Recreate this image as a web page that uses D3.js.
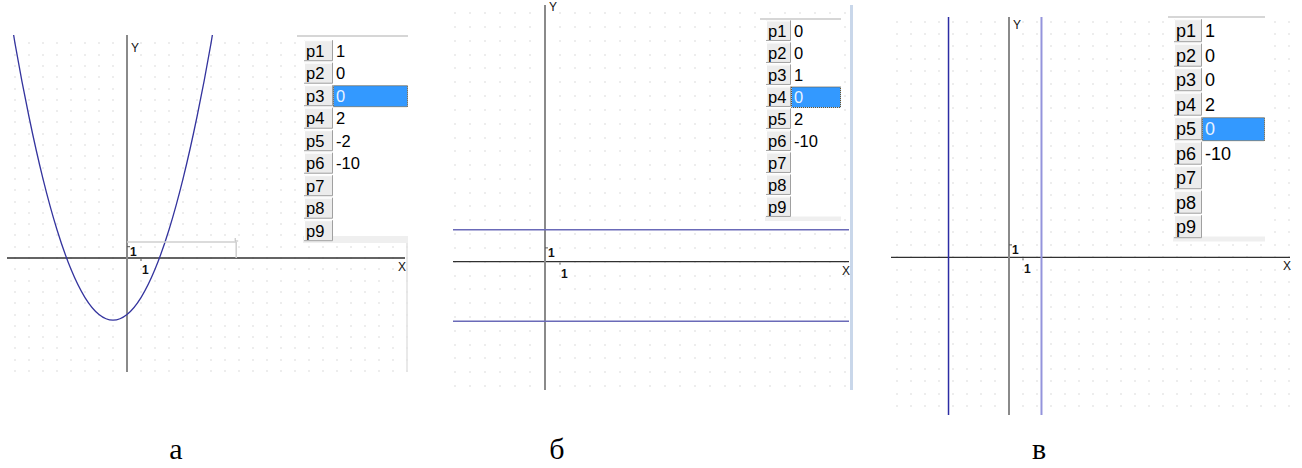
<!DOCTYPE html>
<html><head><meta charset="utf-8">
<script src="https://cdn.jsdelivr.net/npm/d3@7"></script>
<style>html,body{margin:0;padding:0;background:#fff;}svg{display:block;}</style>
</head><body>
<svg id="chart" width="1302" height="468"></svg>
<script>
// ---- data ----
const panelLabels = ["а", "б", "в"];
const paramNames = ["p1", "p2", "p3", "p4", "p5", "p6", "p7", "p8", "p9"];
const paramsA = ["1", "0", "0", "2", "-2", "-10", "", "", ""];
const paramsB = ["0", "0", "1", "0", "2", "-10", "", "", ""];
const paramsC = ["1", "0", "0", "2", "0", "-10", "", "", ""];
const activeParam = [2, 3, 4];
const parabolaX = [-9, -8, -7, -6, -5, -4, -3, -2, -1, 0, 1, 2, 3, 4, 5, 6, 7];
const parabolaY = [26.5, 19, 12.5, 7, 2.5, -1, -3.5, -5, -5.5, -5, -3.5, -1, 2.5, 7, 12.5, 19, 26.5];
const linesB_y = [2.32, -4.32];
const linesC_x = [-4.32, 2.32];
const axisNames = ["X", "Y"];
const unitTick = [1];

const svg = d3.select("#chart");
const SANS = "Liberation Sans, Arial, sans-serif";

const panels = [
  {area:{x0:7,x1:407,y0:35,y1:372}, o:[127,258], u:[14,11.3],
   xAxis:[7,405], yAxis:[35,372], yNameY:52,
   table:{left:297, top:36, btnX:304, btnW:29, valX1:408, c0:50.7, rowH:22.5, btnH:21, font:16.5, bandY:236, bandH:7},
   params:paramsA},
  {area:{x0:453,x1:849,y0:0,y1:390}, o:[545,261.7], u:[15,13.8],
   xAxis:[453,849], yAxis:[5,390], yNameY:11,
   table:{left:760, top:19, btnX:766, btnW:25, valX1:841, c0:30.7, rowH:22, btnH:20.5, font:16.5, bandY:216.5, bandH:4.5},
   params:paramsB},
  {area:{x0:891,x1:1290,y0:17,y1:415}, o:[1009,257.3], u:[14,12.4],
   xAxis:[891,1290], yAxis:[17,415], yNameY:29,
   table:{left:1168, top:17, btnX:1174, btnW:28, valX1:1265, c0:30.7, rowH:24.5, btnH:23, font:18, bandY:236.5, bandH:5},
   params:paramsC}
];

panels.forEach((p, i) => {
  const a = p.area;
  const xMin = (a.x0 - p.o[0]) / p.u[0], xMax = (a.x1 - p.o[0]) / p.u[0];
  const yMax = (p.o[1] - a.y0) / p.u[1], yMin = (p.o[1] - a.y1) / p.u[1];
  const x = d3.scaleLinear().domain([xMin, xMax]).range([a.x0, a.x1]);
  const y = d3.scaleLinear().domain([yMin, yMax]).range([a.y1, a.y0]);

  const g = svg.append("g");
  const clipId = "clip" + i;
  svg.append("clipPath").attr("id", clipId).append("rect")
    .attr("x", a.x0).attr("y", a.y0).attr("width", a.x1 - a.x0).attr("height", a.y1 - a.y0);

  // grid dots
  const dots = [];
  for (let gx = Math.ceil(xMin); gx <= Math.floor(xMax); gx++)
    for (let gy = Math.ceil(yMin); gy <= Math.floor(yMax); gy++) dots.push([gx, gy]);
  g.append("g").selectAll("rect").data(dots).join("rect")
    .attr("x", d => Math.round(x(d[0])) - 0.5).attr("y", d => Math.round(y(d[1])) - 0.5)
    .attr("width", 1).attr("height", 1).attr("fill", "#b8b8b8");

  // axes
  g.append("line").attr("x1", p.xAxis[0]).attr("x2", p.xAxis[1])
    .attr("y1", y(0)).attr("y2", y(0)).attr("stroke", "#303030").attr("stroke-width", 1.3);
  g.append("line").attr("x1", x(0)).attr("x2", x(0))
    .attr("y1", p.yAxis[0]).attr("y2", p.yAxis[1]).attr("stroke", "#8a8a8a").attr("stroke-width", 2);

  // unit ticks
  unitTick.forEach(t => {
    g.append("line").attr("x1", x(t)).attr("x2", x(t)).attr("y1", y(0) + 1).attr("y2", y(0) + 3)
      .attr("stroke", "#555").attr("stroke-width", 1);
    g.append("text").attr("x", x(t) + 1).attr("y", y(0) + 16).text(t)
      .attr("font-family", SANS).attr("font-size", 12).attr("font-weight", "bold").attr("fill", "#111");
    g.append("line").attr("x1", x(0)).attr("x2", x(0) + 3).attr("y1", y(t)).attr("y2", y(t))
      .attr("stroke", "#555").attr("stroke-width", 1);
    g.append("text").attr("x", x(0) + 3).attr("y", y(t) + 9).text(t)
      .attr("font-family", SANS).attr("font-size", 12).attr("font-weight", "bold").attr("fill", "#111");
  });
  // axis names
  g.append("text").attr("x", p.xAxis[1] - 7).attr("y", y(0) + 13).text(axisNames[0])
    .attr("font-family", SANS).attr("font-size", 12).attr("fill", "#111");
  g.append("text").attr("x", x(0) + 4).attr("y", p.yNameY).text(axisNames[1])
    .attr("font-family", SANS).attr("font-size", 12).attr("fill", "#111");

  // curves
  const cg = g.append("g").attr("clip-path", `url(#${clipId})`);
  if (i === 0) {
    const pts = parabolaX.map((vx, k) => [vx, parabolaY[k]]);
    cg.append("path").datum(pts)
      .attr("d", d3.line().x(d => x(d[0])).y(d => y(d[1])).curve(d3.curveNatural))
      .attr("fill", "none").attr("stroke", "#34349e").attr("stroke-width", 1.3);
    g.append("path").attr("d", `M${x(0)},${y(0) - 16}H${x(7.8)}M${x(7.8)},${y(0) - 16}V${y(0)}`)
      .attr("fill", "none").attr("stroke", "#cfcfcf").attr("stroke-width", 1.5);
    g.append("path").attr("d", `M${x(7.8) - 1},${y(0) - 20}v3h3`).attr("fill", "none").attr("stroke", "#bbb").attr("stroke-width", 1);
    g.append("line").attr("x1", a.x1).attr("x2", a.x1).attr("y1", 243).attr("y2", a.y1).attr("stroke", "#e2e2e2").attr("stroke-width", 1.5);
  } else if (i === 1) {
    cg.selectAll("line.h").data(linesB_y).join("line").attr("class", "h")
      .attr("x1", a.x0).attr("x2", a.x1).attr("y1", d => y(d)).attr("y2", d => y(d))
      .attr("stroke", "#6a6ab8").attr("stroke-width", 1.6);
    g.append("line").attr("x1", 851.5).attr("x2", 851.5).attr("y1", 5).attr("y2", 390)
      .attr("stroke", "#c9d7ea").attr("stroke-width", 3);
  } else {
    const cols = ["#2c2ca4", "#9494dc"];
    cg.selectAll("line.v").data(linesC_x).join("line").attr("class", "v")
      .attr("x1", d => x(d)).attr("x2", d => x(d)).attr("y1", a.y0).attr("y2", a.y1)
      .attr("stroke", (d, k) => cols[k]).attr("stroke-width", (d, k) => k ? 2 : 1.5);
  }

  // parameter table
  const t = p.table;
  const tg = svg.append("g");
  const lastCenter = t.c0 + t.rowH * 8;
  tg.append("rect").attr("x", t.btnX - 1).attr("y", t.top + 2).attr("width", t.valX1 - t.btnX + 1)
    .attr("height", t.bandY - t.top - 2).attr("fill", "#fff");
  tg.append("line").attr("x1", t.left).attr("x2", t.valX1).attr("y1", t.top).attr("y2", t.top)
    .attr("stroke", "#d6d6d6").attr("stroke-width", 2);
  tg.append("rect").attr("x", t.btnX - 1).attr("y", t.bandY).attr("width", t.valX1 - t.btnX + 1)
    .attr("height", t.bandH).attr("fill", "#efefef");
  const rowY = d3.scaleLinear().domain([0, 8]).range([t.c0, lastCenter]);
  // active cell (drawn below the texts)
  const ak = activeParam[i];
  tg.append("rect").attr("x", t.btnX + t.btnW + 0.5).attr("y", rowY(ak) - t.btnH / 2 + 0.5)
    .attr("width", t.valX1 - t.btnX - t.btnW - 1).attr("height", t.btnH).attr("fill", "#3399ff")
    .attr("stroke", "#6b4a1a").attr("stroke-width", 1).attr("stroke-dasharray", "1,1");
  const rows = tg.selectAll("g.row").data(paramNames).join("g").attr("class", "row");
  rows.append("rect").attr("x", t.btnX).attr("y", (d, k) => rowY(k) - t.btnH / 2)
    .attr("width", t.btnW).attr("height", t.btnH).attr("fill", "#ececec");
  rows.append("path").attr("d", (d, k) => {
    const y0 = rowY(k) - t.btnH / 2;
    return `M${t.btnX + 0.5},${y0 + t.btnH}V${y0 + 0.5}H${t.btnX + t.btnW}`;
  }).attr("fill", "none").attr("stroke", "#fff").attr("stroke-width", 1);
  rows.append("path").attr("d", (d, k) => {
    const y0 = rowY(k) - t.btnH / 2;
    return `M${t.btnX},${y0 + t.btnH - 0.5}H${t.btnX + t.btnW - 0.5}V${y0}`;
  }).attr("fill", "none").attr("stroke", "#a0a0a0").attr("stroke-width", 1);
  rows.append("text").attr("x", t.btnX + 2).attr("y", (d, k) => rowY(k) + t.font * 0.36)
    .text(d => d).attr("font-family", SANS).attr("font-size", t.font).attr("fill", "#000");
  rows.append("text").attr("x", t.btnX + t.btnW + 3).attr("y", (d, k) => rowY(k) + t.font * 0.36)
    .text((d, k) => p.params[k]).attr("font-family", SANS).attr("font-size", t.font)
    .attr("fill", (d, k) => k === ak ? "#e8f3ff" : "#000");

  // panel letter
  const letterX = [176, 557, 1039];
  svg.append("text").attr("x", letterX[i]).attr("y", 459).attr("text-anchor", "middle")
    .text(panelLabels[i]).attr("font-family", "Liberation Serif, Times New Roman, serif").attr("font-size", 30).attr("fill", "#000");
});
</script>
</body></html>
